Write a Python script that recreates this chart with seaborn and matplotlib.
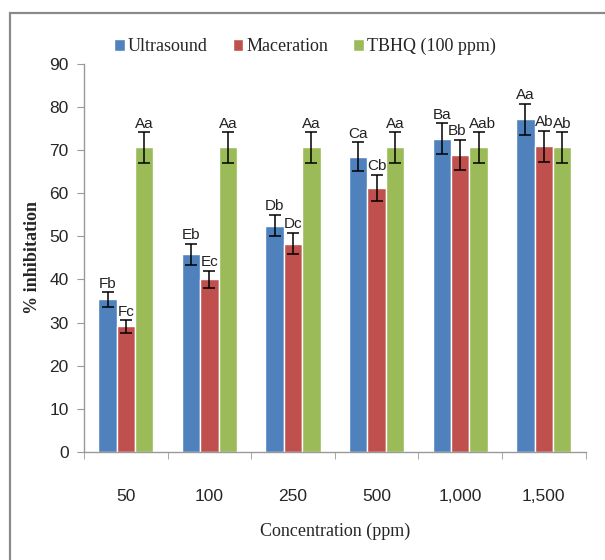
import pandas as pd
import matplotlib.pyplot as plt
import seaborn as sns
from matplotlib.patches import Rectangle

# Data
concentrations = ['50', '100', '250', '500', '1,000', '1,500']
methods = ['Ultrasound', 'Maceration', 'TBHQ (100 ppm)']

ultrasound = [35.4, 45.8, 52.5, 68.5, 72.6, 77.2]
maceration = [29.1, 40.0, 48.3, 61.3, 68.9, 70.9]
tbhq = [70.6, 70.6, 70.6, 70.6, 70.6, 70.6]

ultrasound_err = [1.7, 2.5, 2.5, 3.3, 3.6, 3.6]
maceration_err = [1.5, 2.0, 2.5, 3.0, 3.5, 3.6]
tbhq_err = [3.6, 3.6, 3.6, 3.6, 3.6, 3.6]

ultrasound_lbl = ['Fb', 'Eb', 'Db', 'Ca', 'Ba', 'Aa']
maceration_lbl = ['Fc', 'Ec', 'Dc', 'Cb', 'Bb', 'Ab']
tbhq_lbl = ['Aa', 'Aa', 'Aa', 'Aa', 'Aab', 'Ab']

colors = ['#4F81BD', '#C0504D', '#9BBB59']

df = pd.DataFrame({
    'Concentration': concentrations * 3,
    'Method': [m for m in methods for _ in concentrations],
    'Inhibition': ultrasound + maceration + tbhq,
})
errs = ultrasound_err + maceration_err + tbhq_err
lbls = ultrasound_lbl + maceration_lbl + tbhq_lbl

sns.set_style('white')
plt.rcParams['font.family'] = ['Liberation Sans Narrow', 'Liberation Sans', 'DejaVu Sans']
serif = ['Liberation Serif', 'DejaVu Serif']

fig = plt.figure(figsize=(6.05, 5.6), dpi=100)
ax = fig.add_axes([0.139, 0.193, 0.829, 0.693])

sns.barplot(data=df, x='Concentration', y='Inhibition', hue='Method',
            order=concentrations, hue_order=methods, palette=colors,
            errorbar=None, width=0.66, saturation=1, ax=ax)

# error bars and letters on top of each bar
bars = [p for p in ax.patches if p.get_height() > 0][:len(errs)]
for p, e, t in zip(bars, errs, lbls):
    xc = p.get_x() + p.get_width() / 2
    h = p.get_height()
    ax.errorbar(xc, h, yerr=e, fmt='none', ecolor='black', elinewidth=1.1,
                capsize=4, capthick=1.1)
    # the two crowded labels at 1,000 ppm get pushed apart a little
    dx = {'Bb': -2, 'Aab': 2.5}.get(t, 0) if abs(xc - 4) < 0.3 else 0
    ax.annotate(t, (xc, h + e), xytext=(dx, 1), textcoords='offset points',
                ha='center', va='bottom', fontsize=11, color='#222222')

ax.set_ylim(0, 90)
ax.set_yticks(range(0, 91, 10))
ax.set_xlim(-0.5, len(concentrations) - 0.5)

for s in ['top', 'right']:
    ax.spines[s].set_visible(False)
for s in ['left', 'bottom']:
    ax.spines[s].set_color('#999999')
    ax.spines[s].set_linewidth(1)

# Excel-style ticks between categories
ax.set_xticks([i - 0.5 for i in range(len(concentrations) + 1)], minor=True)
ax.tick_params(axis='x', which='major', length=0, pad=27, labelsize=12.5)
ax.tick_params(axis='x', which='minor', length=5, color='#999999', direction='out', bottom=True)
ax.tick_params(axis='y', length=5, color='#999999', direction='out', left=True, labelsize=12.5, pad=6)

ax.set_xlabel('Concentration (ppm)', family=serif, fontsize=13, labelpad=13)
ax.set_ylabel('% inhibitation', family=serif, fontsize=13, fontweight='bold', labelpad=6)

leg = ax.legend(loc='lower center', bbox_to_anchor=(0.44, 0.98), ncol=3, frameon=False,
                handlelength=0.6, handleheight=0.6, handletextpad=0.15, columnspacing=1.4,
                prop={'family': serif, 'size': 13})

# outer border of the original figure
fig.patches.append(Rectangle((10 / 605, -0.1), 1.0, 1 - 13 / 560 + 0.1, transform=fig.transFigure,
                             fill=False, edgecolor='#8a8a8a', linewidth=1.6))

fig.savefig('out.png', dpi=100)
